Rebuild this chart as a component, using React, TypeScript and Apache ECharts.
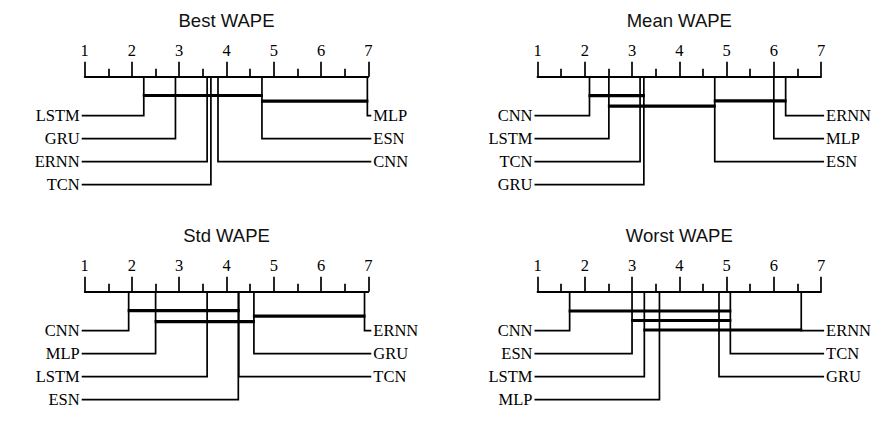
import React, { useEffect, useRef } from "react";
import * as echarts from "echarts";

// ---- data ----
const panelTitles = ["Best WAPE", "Mean WAPE", "Std WAPE", "Worst WAPE"];
const tickLabels = ["1", "2", "3", "4", "5", "6", "7"];

const methodsBest = ["LSTM", "GRU", "ERNN", "TCN", "CNN", "ESN", "MLP"];
const ranksBest = [2.25, 2.92, 3.59, 3.67, 3.82, 4.75, 6.98];
const cliquesBest = [["LSTM", "ESN"], ["ESN", "MLP"]];

const methodsMean = ["CNN", "LSTM", "TCN", "GRU", "ESN", "MLP", "ERNN"];
const ranksMean = [2.1, 2.51, 3.17, 3.25, 4.75, 6.0, 6.25];
const cliquesMean = [["CNN", "GRU"], ["ESN", "ERNN"], ["LSTM", "ESN"]];

const methodsStd = ["CNN", "MLP", "LSTM", "ESN", "TCN", "GRU", "ERNN"];
const ranksStd = [1.93, 2.5, 3.59, 4.25, 4.26, 4.58, 6.92];
const cliquesStd = [["CNN", "TCN"], ["GRU", "ERNN"], ["MLP", "GRU"]];

const methodsWorst = ["CNN", "ESN", "LSTM", "MLP", "GRU", "TCN", "ERNN"];
const ranksWorst = [1.68, 3.0, 3.26, 3.58, 4.84, 5.08, 6.58];
const cliquesWorst = [["CNN", "TCN"], ["ESN", "TCN"], ["LSTM", "ERNN"]];

const panelMethods = [methodsBest, methodsMean, methodsStd, methodsWorst];
const panelRanks = [ranksBest, ranksMean, ranksStd, ranksWorst];
const panelCliques = [cliquesBest, cliquesMean, cliquesStd, cliquesWorst];

// ---- layout ----
const gridLeft = [84.7, 537.5, 84.7, 537.5];
const gridTop = [76.7, 76.7, 291.7, 291.7];
const gridWidth = 283.6;
const gridHeight = 120;
const rowStart = 39;
const rowGap = 23;
const cliqueStart = [18.8, 19, 19, 19.3];
const cliqueGap = [5.6, 5.2, 5.5, 9.5];
const SERIF = "Liberation Serif";
const SANS = "Liberation Sans";

function buildOption() {
  const grid: any[] = [];
  const xAxis: any[] = [];
  const yAxis: any[] = [];
  const series: any[] = [];
  const graphic: any[] = [];

  for (let p = 0; p < 4; p++) {
    grid.push({ left: gridLeft[p], top: gridTop[p], width: gridWidth, height: gridHeight, containLabel: false });
    xAxis.push({
      gridIndex: p,
      type: "value",
      position: "top",
      min: 1,
      max: 7,
      interval: 1,
      axisLine: { show: true, onZero: false, lineStyle: { color: "#000", width: 1.8 } },
      axisTick: { show: true, inside: false, length: 15, lineStyle: { color: "#000", width: 1.7 } },
      minorTick: { show: true, splitNumber: 2, length: 8, lineStyle: { color: "#000", width: 1.7 } },
      splitLine: { show: false },
      minorSplitLine: { show: false },
      axisLabel: {
        show: true,
        margin: 18,
        color: "#000",
        fontFamily: SERIF,
        fontSize: 16.5,
        formatter: (v: number) => tickLabels[Math.round(v) - 1] ?? "",
      },
    });
    yAxis.push({ gridIndex: p, type: "value", min: 0, max: gridHeight, inverse: true, show: false });

    graphic.push({
      type: "text",
      x: gridLeft[p] + gridWidth / 2,
      y: gridTop[p] - 56.5,
      style: { text: panelTitles[p], fontFamily: SANS, fontSize: 18.5, fill: "#111", align: "center", verticalAlign: "middle" },
    });

    const names = panelMethods[p];
    const ranks = panelRanks[p];
    const order = names.map((_, i) => i).sort((a, b) => ranks[a] - ranks[b]);
    const nLeft = Math.ceil(names.length / 2);
    const items: { name: string; rank: number; row: number; side: number }[] = [];
    order.forEach((idx, k) => {
      if (k < nLeft) {
        items.push({ name: names[idx], rank: ranks[idx], row: rowStart + rowGap * k, side: 0 });
      } else {
        const r = names.length - 1 - k;
        items.push({ name: names[idx], rank: ranks[idx], row: rowStart + rowGap * r, side: 1 });
      }
    });

    series.push({
      type: "custom",
      coordinateSystem: "cartesian2d",
      xAxisIndex: p,
      yAxisIndex: p,
      clip: false,
      silent: true,
      data: items.map((it) => [it.rank, it.row, it.side]),
      renderItem: (params: any, api: any) => {
        const it = items[params.dataIndex];
        const top = api.coord([it.rank, 0]);
        const bottom = api.coord([it.rank, it.row]);
        const edgeX = it.side === 0 ? api.coord([1, 0])[0] - 3 : api.coord([7, 0])[0] + 3;
        const textX = it.side === 0 ? edgeX - 2 : edgeX + 2;
        return {
          type: "group",
          children: [
            {
              type: "polyline",
              shape: { points: [[top[0], top[1]], [bottom[0], bottom[1]], [edgeX, bottom[1]]] },
              style: { stroke: "#000", lineWidth: 1.7, fill: null },
            },
            {
              type: "text",
              style: {
                text: it.name,
                x: textX,
                y: bottom[1],
                align: it.side === 0 ? "right" : "left",
                verticalAlign: "middle",
                fontFamily: SERIF,
                fontSize: 16.5,
                fill: "#000",
              },
            },
          ],
        };
      },
    });

    const cl = panelCliques[p].map((c, k) => [
      ranks[names.indexOf(c[0])],
      ranks[names.indexOf(c[1])],
      cliqueStart[p] + cliqueGap[p] * k,
    ]);
    series.push({
      type: "custom",
      coordinateSystem: "cartesian2d",
      xAxisIndex: p,
      yAxisIndex: p,
      clip: false,
      silent: true,
      data: cl,
      renderItem: (params: any, api: any) => {
        const a = api.coord([api.value(0), api.value(2)]);
        const b = api.coord([api.value(1), api.value(2)]);
        return {
          type: "line",
          shape: { x1: a[0] - 1, y1: a[1], x2: b[0] + 1, y2: b[1] },
          style: { stroke: "#000", lineWidth: 3.2 },
        };
      },
    });
  }

  return {
    animation: false,
    backgroundColor: "#fff",
    grid,
    xAxis,
    yAxis,
    series,
    graphic,
  };
}

export default function App() {
  const ref = useRef<HTMLDivElement>(null);
  useEffect(() => {
    if (!ref.current) return;
    const chart = echarts.init(ref.current, undefined, { renderer: "svg" });
    chart.setOption(buildOption() as any);
    return () => chart.dispose();
  }, []);
  return (
    <div
      ref={ref}
      style={{ position: "fixed", left: 0, top: 0, width: 896, height: 427, background: "#fff" }}
    />
  );
}
